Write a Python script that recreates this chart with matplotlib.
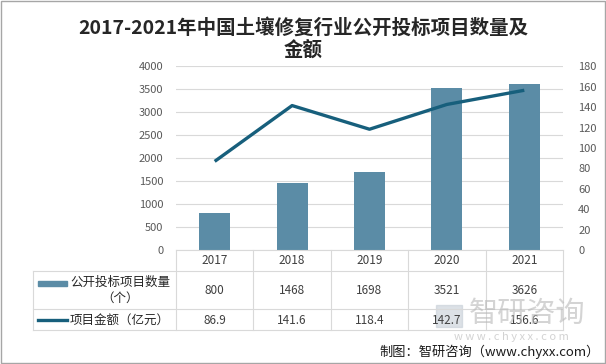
import matplotlib
matplotlib.use("Agg")
import matplotlib.pyplot as plt
from matplotlib.lines import Line2D
from matplotlib.patches import Rectangle
from matplotlib.transforms import blended_transform_factory

plt.rcParams['font.family'] = ['Noto Sans CJK SC', 'DejaVu Sans']

years = ['2017', '2018', '2019', '2020', '2021']
counts = [800, 1468, 1698, 3521, 3626]
amounts = [86.9, 141.6, 118.4, 142.7, 156.6]
count_label = '公开投标项目数量\n（个）'
amount_label = '项目金额（亿元）'
title = '2017-2021年中国土壤修复行业公开投标项目数量及\n金额'

W, H = 606, 364
bar_color = '#5b8ca6'
line_color = '#175f7c'
grid_color = '#d9d9d9'
tick_color = '#595959'


def fx(px):
    return px / W


def fy(py):
    return 1 - py / H


fig = plt.figure(figsize=(W / 100, H / 100), dpi=100)
ax = fig.add_axes([fx(176), fy(250), fx(563) - fx(176), (250 - 66.4) / H])
ax2 = ax.twinx()

xs = list(range(len(years)))
ax.bar(xs, counts, width=0.4, color=bar_color, zorder=2)
ax2.plot(xs, amounts, color=line_color, lw=2.4, solid_capstyle='butt', zorder=3)

ax.set_xlim(-0.5, len(years) - 0.5)
ax.set_ylim(0, 4000)
ax.set_yticks(range(0, 4001, 500))
ax2.set_ylim(0, 180)
ax2.set_yticks(range(0, 181, 20))
ax.grid(axis='y', color=grid_color, lw=0.8, zorder=0)
ax.set_axisbelow(True)
ax.set_xticks([])
for a in (ax, ax2):
    for s in a.spines.values():
        s.set_visible(False)
    a.tick_params(axis='y', length=0, labelsize=8, labelcolor=tick_color)
ax.tick_params(axis='y', pad=9)
ax2.tick_params(axis='y', pad=11)
ax.spines['bottom'].set_visible(True)
ax.spines['bottom'].set_color(grid_color)

# data table below the plot
tr = blended_transform_factory(ax.transData, fig.transFigure)
y_top, y_r1, y_r2, y_bot = 250, 271, 309, 330
for k in range(len(years) + 1):
    fig.add_artist(Line2D([k - 0.5, k - 0.5], [fy(y_top), fy(y_bot)],
                          transform=tr, color=grid_color, lw=0.8))
fig.add_artist(Line2D([fx(33), fx(33)], [fy(y_r1), fy(y_bot)],
                      transform=fig.transFigure, color=grid_color, lw=0.8))
for yy in (y_r1, y_r2, y_bot):
    fig.add_artist(Line2D([fx(33), fx(563)], [fy(yy), fy(yy)],
                          transform=fig.transFigure, color=grid_color, lw=0.8))

txt_color = '#404040'
for i, yr in enumerate(years):
    fig.text(i, fy(260.5), yr, transform=tr, ha='center', va='center',
             fontsize=8.5, color=txt_color)
    fig.text(i, fy(290), str(counts[i]), transform=tr, ha='center', va='center',
             fontsize=8.5, color=txt_color)
    fig.text(i, fy(320), f'{amounts[i]:.1f}', transform=tr, ha='center',
             va='center', fontsize=8.5, color=txt_color)

fig.add_artist(Rectangle((fx(38), fy(286)), fx(67) - fx(38), 5 / H,
                         transform=fig.transFigure, color=bar_color))
fig.text(fx(120), fy(290), count_label, ha='center', va='center',
         fontsize=9, color='#262626', linespacing=1.3)
fig.add_artist(Line2D([fx(38), fx(67)], [fy(320), fy(320)],
                      transform=fig.transFigure, color=line_color, lw=2.4))
fig.text(fx(70), fy(320), amount_label, ha='left', va='center',
         fontsize=9, color='#262626')

# title
fig.text(0.5, fy(39), title, ha='center', va='center', fontsize=14,
         fontweight='bold', color='#262626', linespacing=1.2)

# watermark
fig.add_artist(Rectangle((fx(436), fy(327)), fx(462) - fx(436), 22 / H,
                         transform=fig.transFigure, color='#c5ced6', alpha=0.6))
fig.text(fx(527), fy(314), '智研咨询', ha='center', va='center', fontsize=21,
         color='#b8b8b8', alpha=0.6)
fig.text(fx(511), fy(337), 'w w w . c h y x x . c o m', ha='center',
         va='center', fontsize=8, color='#c0c0c0', alpha=0.7)

fig.text(fx(600), fy(352), '制图：智研咨询（www.chyxx.com）', ha='right',
         va='center', fontsize=9.5, color='#1a1a1a')

# outer frame
fig.add_artist(Rectangle((0.001, 0.002), 0.997, 0.996, transform=fig.transFigure,
                         fill=False, edgecolor='#a6a6a6', lw=1))

fig.savefig('out.png', dpi=100)
